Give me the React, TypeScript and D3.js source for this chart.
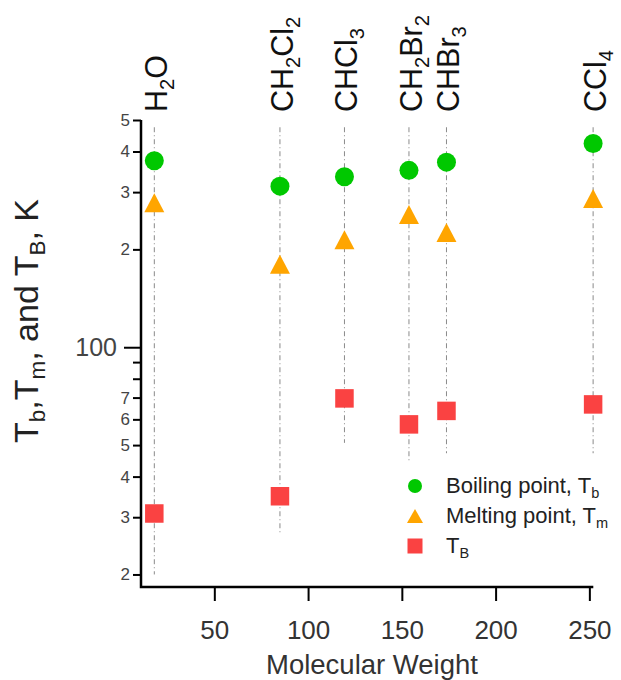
import React, { useEffect, useRef } from "react";
import * as d3 from "d3";

// compounds, in the order of the drop lines
const compounds = ["H2O", "CH2Cl2", "CHCl3", "CH2Br2", "CHBr3", "CCl4"];
const molWeight = [18, 85, 119.4, 153.8, 173.8, 252];
const boilingPoint = [374.7, 313, 334.5, 350, 371, 423.6];
const meltingPoint = [278, 180, 214, 256, 225.5, 286.6];
const tB = [30.8, 34.8, 69.6, 57.9, 63.7, 66.7];
// vertical dash-dot drop lines
const dropTop = 475;
const dropBottom = [20, 26.8, 50.8, 44.4, 47.2, 47.2];

const xTicks = [50, 100, 150, 200, 250];
const yTicks = [20, 30, 40, 50, 60, 70, 80, 90, 100, 200, 300, 400, 500];
const yTickLabels = ["2", "3", "4", "5", "6", "7", "", "", "100", "2", "3", "4", "5"];

const legendItems = [
  { shape: "circle", label: [["Boiling point, T", 0], ["b", 1]] },
  { shape: "triangle", label: [["Melting point, T", 0], ["m", 1]] },
  { shape: "square", label: [["T", 0], ["B", 1]] },
];
const yTitle = [["T", 0], ["b", 1], [",T", 0], ["m", 1], [", and T", 0], ["B", 1], [", K", 0]];

const GREEN = "#00c800";
const ORANGE = "#ffa500";
const RED = "#fa4242";
const FONT = "'Liberation Sans', Arial, sans-serif";

const W = 621;
const H = 680;

function rich(text: any, parts: any[], fs: number) {
  let prevSub = false;
  parts.forEach(([t, sub]) => {
    let dy = 0;
    if (sub && !prevSub) dy = fs * 0.22;
    if (!sub && prevSub) dy = -fs * 0.22;
    text.append("tspan")
      .attr("font-size", sub ? fs * 0.66 : fs)
      .attr("dy", dy)
      .text(t);
    prevSub = !!sub;
  });
}

function formulaParts(f: string) {
  return f.split(/(\d+)/).filter((s) => s.length).map((s) => [s, /\d/.test(s) ? 1 : 0]);
}

function tri(w: number, h: number) {
  return `M0,${-h / 2}L${w / 2},${h / 2}L${-w / 2},${h / 2}Z`;
}

export default function App() {
  const svgRef = useRef(null);

  useEffect(() => {
    const svg = d3.select(svgRef.current);
    svg.selectAll("*").remove();

    const x = d3.scaleLinear().domain([10.9, 252.1]).range([141, 593.3]);
    const y = d3.scaleLog().domain([18.3, 500]).range([587, 120]);

    // drop lines
    svg.append("g")
      .selectAll("line")
      .data(molWeight)
      .enter()
      .append("line")
      .attr("x1", (d) => x(d))
      .attr("x2", (d) => x(d))
      .attr("y1", y(dropTop))
      .attr("y2", (d, i) => y(dropBottom[i]))
      .attr("stroke", "#8a8a8a")
      .attr("stroke-width", 1)
      .attr("stroke-dasharray", "5,3,1,3");

    // compound labels above the plot
    compounds.forEach((c, i) => {
      const t = svg.append("text")
        .attr("transform", `translate(${x(molWeight[i]) + 13},112) rotate(-90)`)
        .attr("font-family", FONT)
        .attr("fill", "#111");
      rich(t, formulaParts(c), 30.5);
    });

    // axes
    const yAxis = d3.axisLeft(y)
      .tickValues(yTicks)
      .tickFormat((d, i) => yTickLabels[i])
      .tickSize(8)
      .tickSizeOuter(0)
      .tickPadding(3);
    const gy = svg.append("g").attr("transform", "translate(141,0)").call(yAxis);
    gy.select(".domain").remove();
    gy.selectAll(".tick line").attr("stroke", "#000").attr("stroke-width", 2);
    gy.selectAll(".tick text")
      .attr("font-family", FONT)
      .attr("fill", "#444")
      .attr("font-size", 17);
    gy.selectAll(".tick")
      .filter((d) => d === 100)
      .call((g) => {
        g.select("line").attr("x2", -17);
        g.select("text").attr("x", -24).attr("font-size", 25);
      });

    const xAxis = d3.axisBottom(x)
      .tickValues(xTicks)
      .tickFormat(d3.format("d"))
      .tickSize(14)
      .tickSizeOuter(0)
      .tickPadding(20);
    const gx = svg.append("g").attr("transform", "translate(0,587)").call(xAxis);
    gx.select(".domain").remove();
    gx.selectAll(".tick line").attr("stroke", "#000").attr("stroke-width", 2);
    gx.selectAll(".tick text")
      .attr("font-family", FONT)
      .attr("fill", "#333")
      .attr("font-size", 26);

    // axis frame lines
    svg.append("path")
      .attr("d", `M141,${y(500)}V587H${x(252.1)}`)
      .attr("fill", "none")
      .attr("stroke", "#000")
      .attr("stroke-width", 2.5);

    // titles
    svg.append("text")
      .attr("x", 372)
      .attr("y", 674)
      .attr("text-anchor", "middle")
      .attr("font-family", FONT)
      .attr("font-size", 27.5)
      .attr("fill", "#333")
      .text("Molecular Weight");

    const yt = svg.append("text")
      .attr("transform", "translate(38,321) rotate(-90)")
      .attr("text-anchor", "middle")
      .attr("font-family", FONT)
      .attr("fill", "#222");
    rich(yt, yTitle, 34);

    // markers
    svg.append("g")
      .selectAll("circle")
      .data(boilingPoint)
      .enter()
      .append("circle")
      .attr("cx", (d, i) => x(molWeight[i]))
      .attr("cy", (d) => y(d))
      .attr("r", 9.5)
      .attr("fill", GREEN);

    svg.append("g")
      .selectAll("path")
      .data(meltingPoint)
      .enter()
      .append("path")
      .attr("d", tri(20, 19))
      .attr("transform", (d, i) => `translate(${x(molWeight[i])},${y(d)})`)
      .attr("fill", ORANGE);

    svg.append("g")
      .selectAll("rect")
      .data(tB)
      .enter()
      .append("rect")
      .attr("x", (d, i) => x(molWeight[i]) - 9.25)
      .attr("y", (d) => y(d) - 9.25)
      .attr("width", 18.5)
      .attr("height", 18.5)
      .attr("fill", RED);

    // legend
    const lg = svg.append("g").attr("transform", "translate(415,486)");
    legendItems.forEach((item, i) => {
      const row = lg.append("g").attr("transform", `translate(0,${i * 30})`);
      if (item.shape === "circle") row.append("circle").attr("r", 7).attr("fill", GREEN);
      if (item.shape === "triangle") row.append("path").attr("d", tri(16, 14)).attr("fill", ORANGE);
      if (item.shape === "square")
        row.append("rect").attr("x", -7.5).attr("y", -7.5).attr("width", 15).attr("height", 15).attr("fill", RED);
      const t = row.append("text")
        .attr("x", 31)
        .attr("y", 7)
        .attr("font-family", FONT)
        .attr("fill", "#222");
      rich(t, item.label, 22);
    });
  }, []);

  return (
    <svg
      ref={svgRef}
      width={W}
      height={H}
      style={{ position: "absolute", left: 0, top: 0, background: "#fff" }}
    />
  );
}
